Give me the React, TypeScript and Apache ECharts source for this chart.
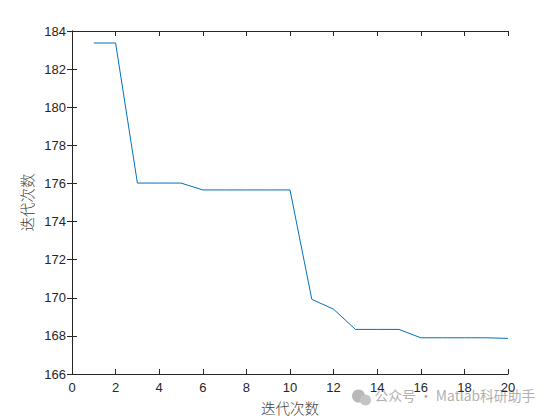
import React, { useEffect, useRef } from "react";
import * as echarts from "echarts";

const iterations = [1, 2, 3, 4, 5, 6, 7, 8, 9, 10, 11, 12, 13, 14, 15, 16, 17, 18, 19, 20];
const values = [183.37, 183.37, 176.02, 176.02, 176.02, 175.66, 175.66, 175.66, 175.66, 175.66, 169.92, 169.4, 168.34, 168.34, 168.34, 167.9, 167.9, 167.9, 167.9, 167.87];
const xLabel = "迭代次数";
const yLabel = "迭代次数";
const watermark = "公众号 · Matlab科研助手";

export default function App() {
  const ref = useRef<HTMLDivElement>(null);
  useEffect(() => {
    if (!ref.current) return;
    const chart = echarts.init(ref.current, undefined, { renderer: "svg" });
    const axisCommon = {
      axisLine: { show: true, lineStyle: { color: "#262626", width: 1 } },
      splitLine: { show: false },
    };
    const tickStyle = { show: true, inside: true, length: 5, lineStyle: { color: "#262626" } };
    const labelStyle = { color: "#262626", fontSize: 13, fontFamily: "Liberation Sans, Arial" };
    chart.setOption({
      animation: false,
      backgroundColor: "#fff",
      grid: { left: 72, right: 52, top: 31, bottom: 46, containLabel: false },
      xAxis: [
        {
          type: "value", min: 0, max: 20, interval: 2, position: "bottom",
          ...axisCommon,
          axisTick: tickStyle,
          axisLabel: { ...labelStyle, margin: 7 },
          name: xLabel, nameLocation: "middle", nameGap: 26,
          nameTextStyle: { color: "#404040", fontSize: 14.5, fontFamily: "Noto Sans CJK SC", fontWeight: 300 },
        },
        {
          type: "value", min: 0, max: 20, interval: 2, position: "top",
          ...axisCommon,
          axisTick: tickStyle,
          axisLabel: { show: false },
        },
      ],
      yAxis: [
        {
          type: "value", min: 166, max: 184, interval: 2, position: "left",
          ...axisCommon,
          axisTick: tickStyle,
          axisLabel: { ...labelStyle, margin: 6 },
          name: yLabel, nameLocation: "middle", nameGap: 37,
          nameTextStyle: { color: "#404040", fontSize: 14.5, fontFamily: "Noto Sans CJK SC", fontWeight: 300 },
        },
        {
          type: "value", min: 166, max: 184, interval: 2, position: "right",
          ...axisCommon,
          axisTick: tickStyle,
          axisLabel: { show: false },
        },
      ],
      series: [
        {
          type: "line",
          data: iterations.map((x, i) => [x, values[i]]),
          showSymbol: false,
          lineStyle: { color: "#0072BD", width: 1 },
          itemStyle: { color: "#0072BD" },
        },
      ],
      graphic: [
        {
          type: "group", left: 352, top: 388,
          children: [
            { type: "circle", shape: { cx: 7, cy: 8, r: 6.5 }, style: { fill: "#b8b8b8" } },
            { type: "circle", shape: { cx: 14, cy: 12, r: 5.5 }, style: { fill: "#c4c4c4" } },
            {
              type: "text", x: 23, y: 0,
              style: { text: watermark, fill: "#b0b0b0", fontSize: 13.8, fontFamily: "Noto Sans CJK SC" },
            },
          ],
        },
      ],
    });
    return () => chart.dispose();
  }, []);
  return <div ref={ref} style={{ width: 560, height: 420, position: "absolute", left: 0, top: 0 }} />;
}
